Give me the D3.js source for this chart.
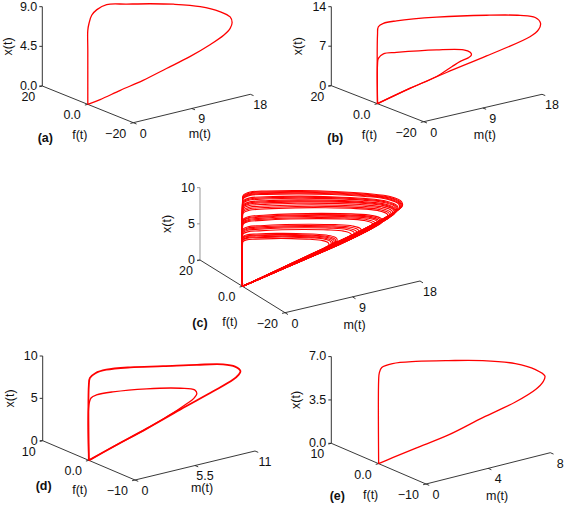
<!DOCTYPE html>
<html><head><meta charset="utf-8">
<script src="https://cdn.jsdelivr.net/npm/d3@7"></script>
<style>
body{margin:0;background:#fff}
svg{display:block}
text{font-family:"Liberation Sans",Arial,Helvetica,sans-serif;font-size:12.5px;fill:#111}
</style>
</head><body>
<svg id="chart" width="564" height="505"></svg>
<script>
// ---------------- data (trajectories lie in the f(t)=0 plane) ----------------
// (a)
const aM = [0,0,0,0.2,0.6,1.4,2.9,6.0,9.6,13.2,17.3,20.3,21.9,22.2,21.9,20.9,18.8,15.7,12.1,8.5,5.0,1.9,0];
const aX = [0,6.1,8.4,9.2,10.0,10.5,10.8,10.3,9.7,9.0,8.0,6.9,6.0,5.3,4.7,4.1,3.4,2.6,1.9,1.2,0.7,0.2,0];
// (b)
const bOuterM = [0,0,0.13,0.9,2.9,9.0,16.6,21.7,24.0,24.8,24.5,23.2,16.6,10.5,5.0,0];
const bOuterX = [0,12.2,13.6,14.0,13.9,12.9,11.2,9.8,8.8,7.6,6.5,5.6,4.0,2.7,1.4,0];
const bInnerM = [0,0,0.13,0.9,2.9,9.0,13.1,14.1,14.3,13.8,12.6,11.3,9.0,5.0,0];
const bInnerX = [0,6.9,8.0,8.6,8.3,7.1,6.0,5.3,4.8,4.4,4.1,3.5,2.4,1.4,0];
// (c) outermost loop shape plus the peak height / reach of every loop of the attractor
const cShapeM = [0,0,0.1,1.0,3.2,7.7,12.1,16.6,19.7,21.1,21.2,20.6,18.8,15.2,10.8,6.3,2.5,0];
const cShapeX = [0,11.7,12.6,12.85,12.45,11.4,10.2,8.8,7.6,6.6,5.9,5.55,4.85,3.75,2.65,1.55,0.6,0];
const cPeaks = [12.8,12.68,12.57,12.45,12.34, 12.0,11.85,11.7, 11.45,11.3,11.15,10.95, 10.72,10.5,10.3,
                9.45,9.3,9.2,9.05,8.9,8.76, 8.06,7.9,7.75,7.6,7.37, 7.0,6.85,6.75,6.6,6.5,6.3];
const cReach = [21.3,21.2,21.1,21.0,20.9, 20.7,20.6,20.5, 20.4,20.3,20.2,20.0, 19.8,19.6,19.4,
                18.6,18.4,18.2,18.0,17.7,17.4, 15.8,15.5,15.2,14.9,14.5, 12.6,12.4,12.2,12.0,11.8,11.5];
// (d)
const dOuterM = [0,0,0.1,0.6,1.6,3.8,6.8,9.9,12.3,13.4,13.9,13.7,13.2,11.4,8.4,5.3,2.2,0];
const dOuterX = [0,8.9,9.7,10.1,10.2,9.8,9.0,8.2,7.5,6.9,6.2,5.8,5.4,4.6,3.4,2.1,0.9,0];
const dInnerM = [0,0,0.2,0.7,2.2,5.3,8.4,9.7,9.9,9.6,9.0,8.1,5.3,2.2,0];
const dInnerX = [0,6.5,7.3,7.5,7.4,6.8,5.9,5.3,4.8,4.3,3.9,3.4,2.1,0.9,0];
// (e)
const eM = [0,0,0.04,0.2,0.9,2.4,4.5,6.7,8.8,10.1,10.7,10.6,10.1,8.8,6.7,4.5,2.4,0.9,0];
const eX = [0,6.75,7.3,7.7,7.8,7.5,6.9,6.2,5.3,4.4,3.7,3.3,2.8,2.2,1.6,0.9,0.5,0.2,0];

// tick values and labels
const xTickVals = {a:[0,4.5,9], b:[0,7,14], c:[0,5,10], d:[0,5,10], e:[0,3.5,7]};
const xTickLabels = {a:["0.0","4.5","9.0"], b:["0","7","14"], c:["0","5","10"], d:["0","5","10"], e:["0.0","3.5","7.0"]};
const fTickVals = {a:[20,0,-20], b:[20,0,-20], c:[20,0,-20], d:[10,0,-10], e:[10,0,-10]};
const fTickLabels = {a:["20","0.0","\u221220"], b:["20","0.0","\u221220"], c:["20","0.0","\u221220"], d:["10","0.0","\u221210"], e:["10","0.0","\u221210"]};
const mTickVals = {a:[0,9,18], b:[0,9,18], c:[0,9,18], d:[0,5.5,11], e:[0,4,8]};
const mTickLabels = {a:["0","9","18"], b:["0","9","18"], c:["0","9","18"], d:["0","5.5","11"], e:["0","4","8"]};

// ---------------- layout ----------------
const panels = [
  {id:"a", C:[42.3,86],    Fv:[91,36.7],   Mv:[117,-28.4],  H:79.3, fmax:20, mmax:18, xmax:9,
   xT:-35, fT:[-8,30], mT:[8,25], pL:[3,51.5], vcol:"#333"},
  {id:"b", C:[331.3,85.7], Fv:[92.4,36],   Mv:[118.3,-27.4],H:79,   fmax:20, mmax:18, xmax:14,
   xT:-34, fT:[-8,31], mT:[2,27], pL:[4,51.6], vcol:"#333"},
  {id:"c", C:[200,260],    Fv:[85,52.7],   Mv:[135,-31.7],  H:72.3, fmax:20, mmax:18, xmax:10,
   xT:-33, fT:[-12.5,35], mT:[2,28], pL:[0,63], vcol:"#999"},
  {id:"d", C:[42.7,440.7], Fv:[92.3,39.3], Mv:[120,-29],    H:84.7, fmax:10, mmax:11, xmax:10,
   xT:-33, fT:[-9,29], mT:[7,22], pL:[1,45], vcol:"#333"},
  {id:"e", C:[331.3,443.3],Fv:[94.7,40.7], Mv:[124.3,-31.3],H:86.7, fmax:10, mmax:8,  xmax:7,
   xT:-36, fT:[-8,31], mT:[9,27], pL:[6,52], vcol:"#333"}
];

const curves = {
  a: [{m:aM, x:aX, w:1.3}],
  b: [{m:bOuterM, x:bOuterX, w:1.3},{m:bInnerM, x:bInnerX, w:1.3}],
  c: cPeaks.map((p,i)=>({
        m: cShapeM.map(v=> v * cReach[i] / d3.max(cShapeM)),
        x: cShapeX.map(v=> v * p / d3.max(cShapeX)), w:1.1})),
  d: [{m:dOuterM, x:dOuterX, w:1.8},{m:dInnerM, x:dInnerX, w:1.3}],
  e: [{m:eM, x:eX, w:1.3}]
};

const svg = d3.select("#chart");

panels.forEach(P => {
  const g = svg.append("g");
  const sm = d3.scaleLinear().domain([0, P.mmax]).range([0, 1]);
  const sf = d3.scaleLinear().domain([P.fmax, -P.fmax]).range([0, 1]);
  const sx = d3.scaleLinear().domain([0, P.xmax]).range([0, P.H]);
  const proj = (m, f, x) => [
    P.C[0] + sf(f) * P.Fv[0] + sm(m) * P.Mv[0],
    P.C[1] + sf(f) * P.Fv[1] + sm(m) * P.Mv[1] - sx(x)
  ];
  const line = d3.line().curve(d3.curveCatmullRom.alpha(0.5));

  // axes
  const axisCol = "#222";
  const p0 = proj(0, P.fmax, 0), pTop = proj(0, P.fmax, P.xmax);
  g.append("line").attr("x1",p0[0]).attr("y1",p0[1]).attr("x2",pTop[0]).attr("y2",pTop[1])
    .attr("stroke",P.vcol).attr("stroke-width",1);
  const pf1 = proj(0, -P.fmax, 0);
  g.append("line").attr("x1",p0[0]).attr("y1",p0[1]).attr("x2",pf1[0]).attr("y2",pf1[1])
    .attr("stroke",axisCol).attr("stroke-width",0.9);
  const pm1 = proj(P.mmax, -P.fmax, 0);
  g.append("line").attr("x1",pf1[0]).attr("y1",pf1[1]).attr("x2",pm1[0]).attr("y2",pm1[1])
    .attr("stroke",axisCol).attr("stroke-width",0.9);

  // unit vectors for ticks
  const fl = Math.hypot(P.Fv[0], P.Fv[1]), ml = Math.hypot(P.Mv[0], P.Mv[1]);
  const fu = [P.Fv[0]/fl, P.Fv[1]/fl], mu = [P.Mv[0]/ml, P.Mv[1]/ml];

  // x(t) ticks
  xTickVals[P.id].forEach((v,i) => {
    const p = proj(0, P.fmax, v);
    g.append("line").attr("x1",p[0]-3).attr("y1",p[1]).attr("x2",p[0]).attr("y2",p[1])
      .attr("stroke",P.vcol).attr("stroke-width",1);
    g.append("text").attr("x",p[0]-5).attr("y",p[1]-0.5).attr("dy","0.35em")
      .attr("text-anchor","end").text(xTickLabels[P.id][i]);
  });
  // f(t) ticks
  fTickVals[P.id].forEach((v,i) => {
    const p = proj(0, v, 0);
    g.append("line").attr("x1",p[0]).attr("y1",p[1]).attr("x2",p[0]-mu[0]*3).attr("y2",p[1]-mu[1]*3)
      .attr("stroke",axisCol).attr("stroke-width",0.9);
    g.append("text").attr("x",p[0]-7).attr("y",p[1]+10.5).attr("dy","0.35em")
      .attr("text-anchor","end").text(fTickLabels[P.id][i]);
  });
  // m(t) ticks
  mTickVals[P.id].forEach((v,i) => {
    const p = proj(v, -P.fmax, 0);
    g.append("line").attr("x1",p[0]).attr("y1",p[1]).attr("x2",p[0]+fu[0]*3.5).attr("y2",p[1]+fu[1]*3.5)
      .attr("stroke",axisCol).attr("stroke-width",0.9);
    g.append("text").attr("x",p[0]+10).attr("y",p[1]+10.5).attr("dy","0.35em")
      .attr("text-anchor","middle").text(mTickLabels[P.id][i]);
  });

  // axis titles
  const xc = [P.C[0] + P.xT, P.C[1] - P.H/2];
  g.append("text").attr("transform",`translate(${xc[0]},${xc[1]}) rotate(-90)`)
    .attr("dy","0.35em").attr("text-anchor","middle").text("x(t)");
  const f0 = proj(0, 0, 0);
  g.append("text").attr("x",f0[0]+P.fT[0]).attr("y",f0[1]+P.fT[1]).attr("dy","0.35em")
    .attr("text-anchor","middle").text("f(t)");
  const mMid = proj(P.mmax/2, -P.fmax, 0);
  g.append("text").attr("x",mMid[0]+P.mT[0]).attr("y",mMid[1]+P.mT[1]).attr("dy","0.35em")
    .attr("text-anchor","middle").text("m(t)");
  g.append("text").attr("x",P.C[0]+P.pL[0]).attr("y",P.C[1]+P.pL[1]).attr("dy","0.35em")
    .attr("text-anchor","middle").style("font-weight","bold").text(`(${P.id})`);

  // trajectories
  curves[P.id].forEach(cv => {
    const pts = cv.m.map((m,i) => proj(m, 0, cv.x[i]));
    g.append("path").attr("d", line(pts)).attr("fill","none")
      .attr("stroke","#ff0000").attr("stroke-width",cv.w).attr("stroke-linejoin","round");
  });
});
</script>
</body></html>
